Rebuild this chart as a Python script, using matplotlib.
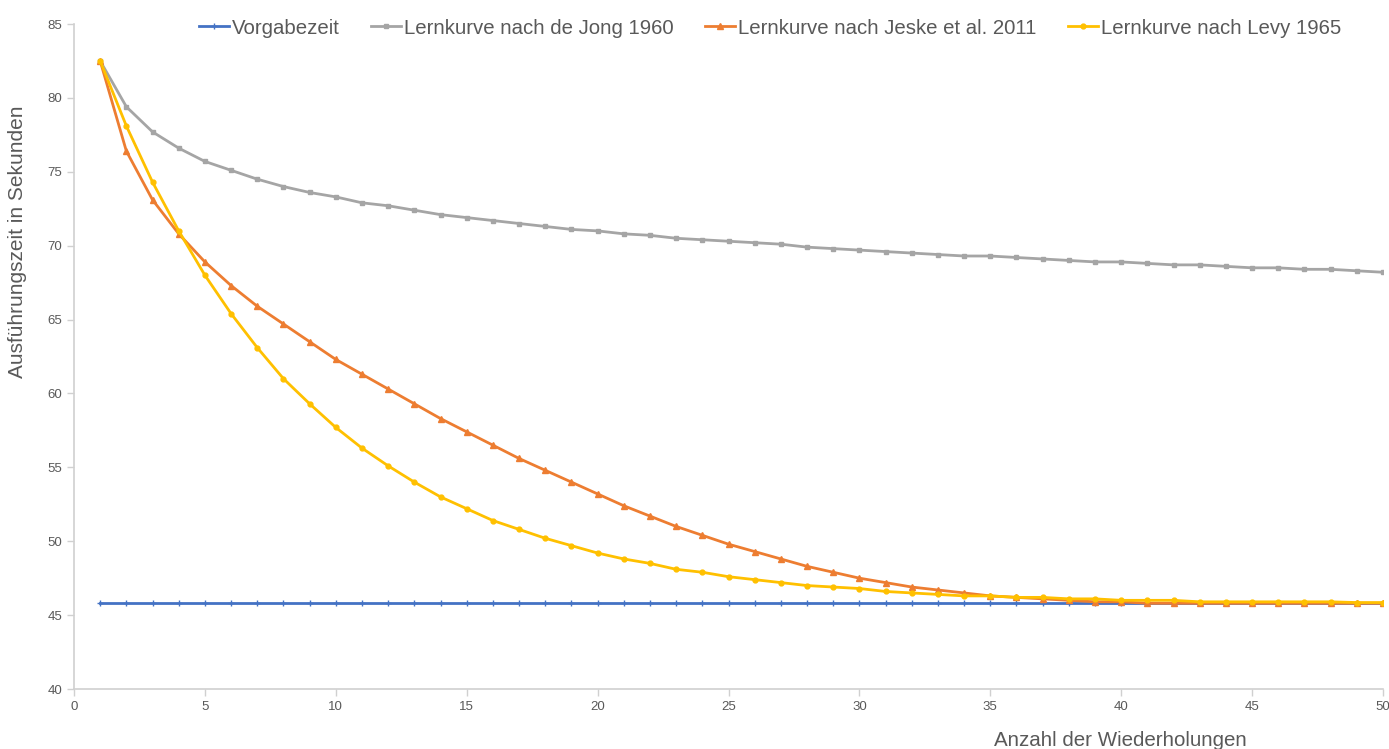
import matplotlib
matplotlib.use("Agg")
import matplotlib.pyplot as plt

plt.rcParams['font.family'] = ['Liberation Sans', 'DejaVu Sans']

#=========================== data ===========================
wiederholungen = list(range(1, 51))

vorgabezeit = [45.8] * 50

de_jong = [82.5, 79.4, 77.7, 76.6, 75.7, 75.1, 74.5, 74.0, 73.6, 73.3,
           72.9, 72.7, 72.4, 72.1, 71.9, 71.7, 71.5, 71.3, 71.1, 71.0,
           70.8, 70.7, 70.5, 70.4, 70.3, 70.2, 70.1, 69.9, 69.8, 69.7,
           69.6, 69.5, 69.4, 69.3, 69.3, 69.2, 69.1, 69.0, 68.9, 68.9,
           68.8, 68.7, 68.7, 68.6, 68.5, 68.5, 68.4, 68.4, 68.3, 68.2]

jeske = [82.5, 76.4, 73.1, 70.8, 68.9, 67.3, 65.9, 64.7, 63.5, 62.3,
         61.3, 60.3, 59.3, 58.3, 57.4, 56.5, 55.6, 54.8, 54.0, 53.2,
         52.4, 51.7, 51.0, 50.4, 49.8, 49.3, 48.8, 48.3, 47.9, 47.5,
         47.2, 46.9, 46.7, 46.5, 46.3, 46.2, 46.1, 46.0, 45.9, 45.9,
         45.8, 45.8, 45.8, 45.8, 45.8, 45.8, 45.8, 45.8, 45.8, 45.8]

levy = [82.5, 78.1, 74.3, 71.0, 68.0, 65.4, 63.1, 61.0, 59.3, 57.7,
        56.3, 55.1, 54.0, 53.0, 52.2, 51.4, 50.8, 50.2, 49.7, 49.2,
        48.8, 48.5, 48.1, 47.9, 47.6, 47.4, 47.2, 47.0, 46.9, 46.8,
        46.6, 46.5, 46.4, 46.3, 46.3, 46.2, 46.2, 46.1, 46.1, 46.0,
        46.0, 46.0, 45.9, 45.9, 45.9, 45.9, 45.9, 45.9, 45.85, 45.85]

labels = ["Vorgabezeit", "Lernkurve nach de Jong 1960",
          "Lernkurve nach Jeske et al. 2011", "Lernkurve nach Levy 1965"]
x_ticks = list(range(0, 51, 5))
y_ticks = list(range(40, 86, 5))

#=========================== plot ===========================
fig = plt.figure(figsize=(13.89, 7.49), dpi=100)
ax = fig.add_axes([74/1389, 1-689/749, (1383-74)/1389, (689-24)/749])

txt = '#595959'
ax.plot(wiederholungen, vorgabezeit, color='#4472C4', lw=2, marker='+', ms=5, mew=1, label=labels[0])
ax.plot(wiederholungen, de_jong, color='#A5A5A5', lw=2, marker='s', ms=3.5, label=labels[1])
ax.plot(wiederholungen, jeske, color='#ED7D31', lw=2, marker='^', ms=4, label=labels[2])
ax.plot(wiederholungen, levy, color='#FFC000', lw=2, marker='o', ms=3.5, label=labels[3])

ax.set_xlim(0, 50)
ax.set_ylim(40, 85)
ax.set_xticks(x_ticks)
ax.set_yticks(y_ticks)
for s in ['top', 'right']:
    ax.spines[s].set_visible(False)
for s in ['left', 'bottom']:
    ax.spines[s].set_color('#D0D0D0')
    ax.spines[s].set_linewidth(1.2)
ax.tick_params(axis='both', colors='#D0D0D0', labelcolor=txt, labelsize=9.5, length=5, width=1)

fig.text(18/1389, 1-242/749, "Ausführungszeit in Sekunden", rotation=90, ha='center', va='center',
         fontsize=15, color=txt)
fig.text(1120/1389, 1-740/749, "Anzahl der Wiederholungen", ha='center', va='center',
         fontsize=14.8, color=txt)

fig.legend(loc='center', bbox_to_anchor=(770/1389, 1-28/749), ncol=4, frameon=False,
           fontsize=14.7, labelcolor=txt, handlelength=1.45, handletextpad=0.15, columnspacing=1.55)

fig.savefig("out.png", dpi=100)
